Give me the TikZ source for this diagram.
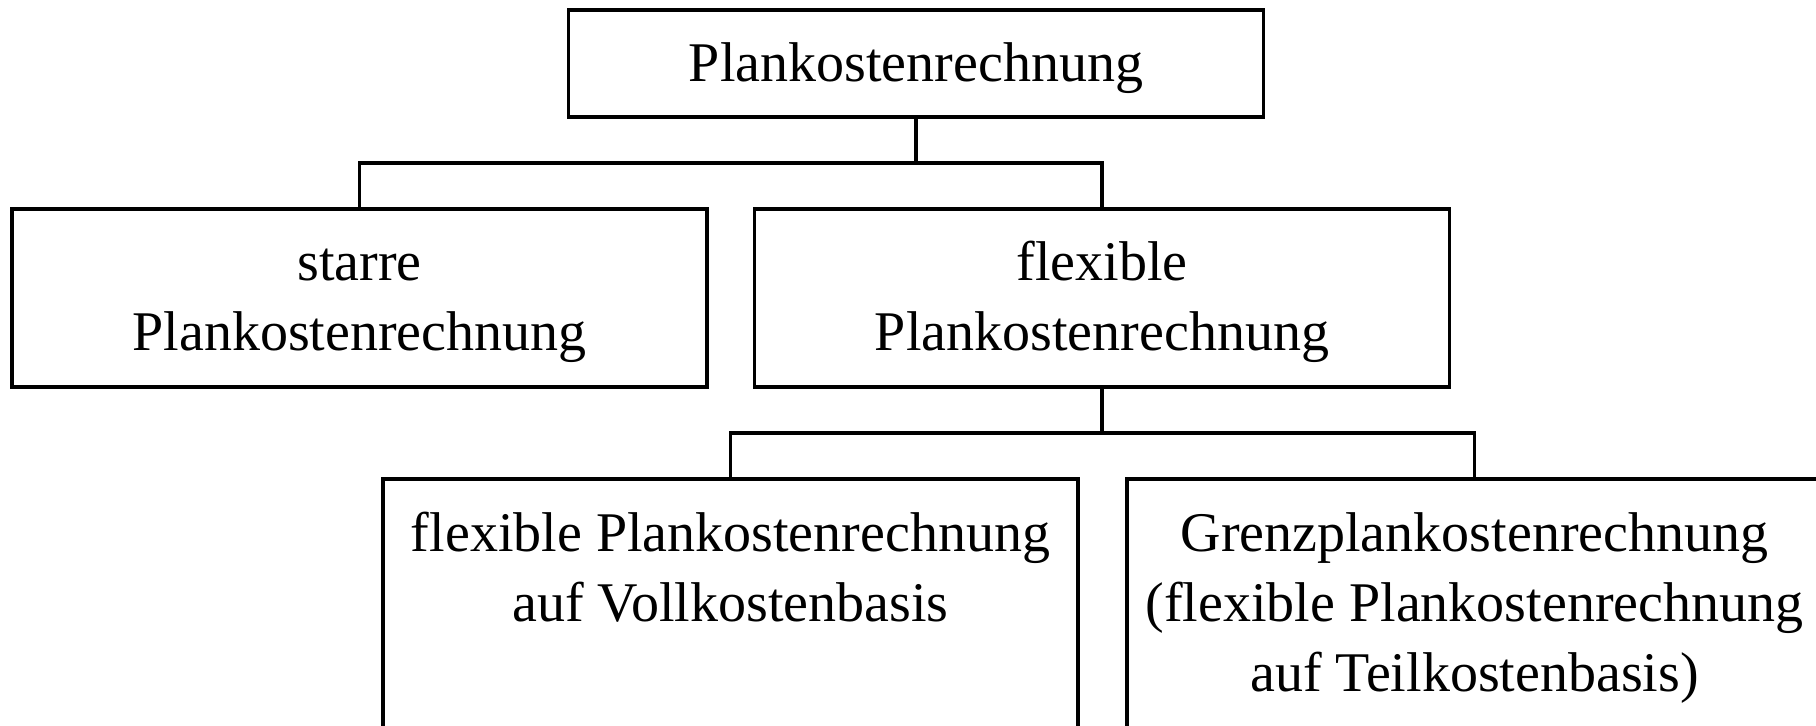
\documentclass[tikz,border=0pt]{standalone}
\usepackage{fontspec}
\setmainfont{Liberation Serif}
\begin{document}
\begin{tikzpicture}[x=0.5pt,y=-0.5pt,
  box/.style={draw=black, line width=1.7pt, rectangle, inner sep=0pt, minimum width=347.5pt},
  txt/.style={anchor=north, inner sep=0pt, align=center, font=\fontsize{28}{35}\selectfont},
  conn/.style={draw=black, line width=1.7pt}]
\useasboundingbox (0,0) rectangle (1816,726);
\clip (0,0) rectangle (1816,726);
% boxes
\node[box, minimum height=53.5pt] (top) at (916,63.5) {};
\node[box, minimum height=89pt] (left) at (359.5,298) {};
\node[box, minimum height=89pt] (mid) at (1102,298) {};
\node[box, minimum height=210.5pt] (bl) at (730.5,689.5) {};
\node[box, minimum height=210.5pt] (br) at (1474.5,689.5) {};
% texts
\node[txt] (ttop) at (916,32) {\strut Plankostenrechnung};
\node[txt] (tleft) at (359.5,231) {\strut starre\\Plankostenrechnung};
\node[txt] (tmid) at (1102,231) {\strut flexible\\Plankostenrechnung};
\node[txt] (tbl) at (730.5,502) {\strut flexible Plankostenrechnung\\auf Vollkostenbasis};
\node[txt] (tbr) at (1474.5,502) {\strut Grenzplankostenrechnung\\(flexible Plankostenrechnung\\auf Teilkostenbasis)};
% connectors
\coordinate (j1) at (916,163);
\coordinate (j2) at (1102,433);
\draw[conn] (top.south) -- (j1);
\draw[conn] (left.north) |- (j1) -| (mid.north);
\draw[conn] (mid.south) -- (j2);
\draw[conn] (bl.north) |- (j2) -| (br.north);
\end{tikzpicture}
\end{document}
